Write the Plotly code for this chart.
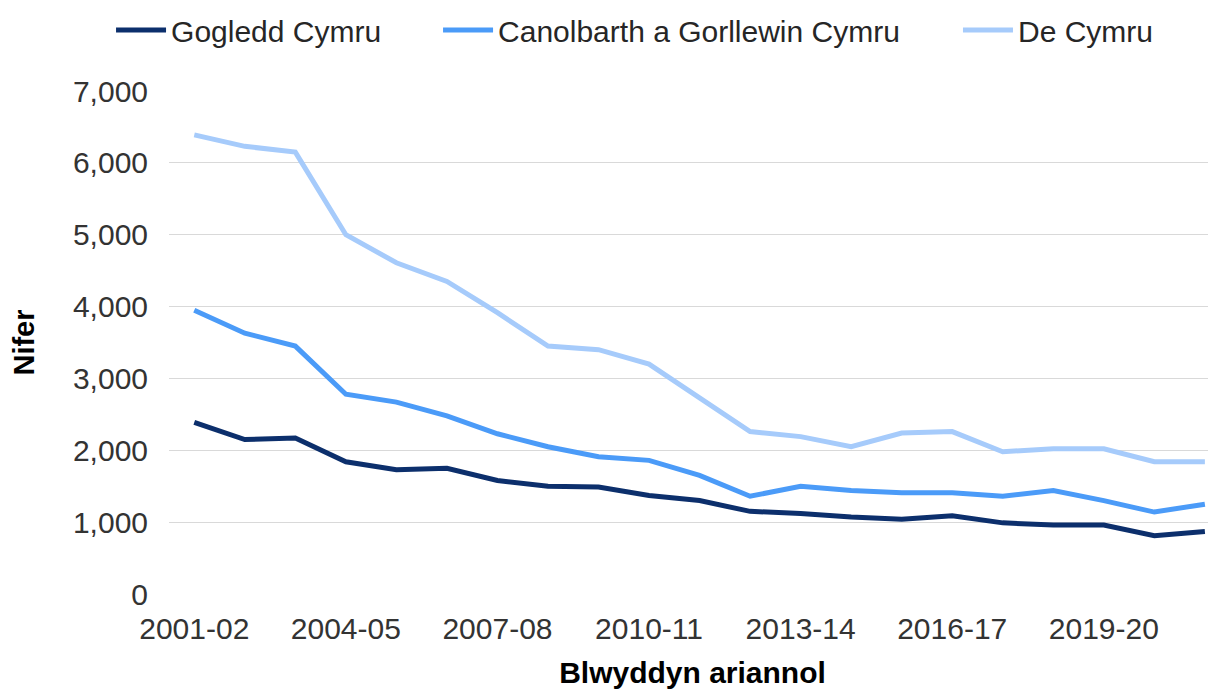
import plotly.graph_objects as go

years = ["2001-02", "2002-03", "2003-04", "2004-05", "2005-06", "2006-07", "2007-08",
         "2008-09", "2009-10", "2010-11", "2011-12", "2012-13", "2013-14", "2014-15",
         "2015-16", "2016-17", "2017-18", "2018-19", "2019-20", "2020-21", "2021-22"]

gogledd = [2390, 2150, 2170, 1840, 1730, 1750, 1580, 1500, 1490, 1370, 1300,
           1150, 1120, 1070, 1040, 1090, 990, 960, 960, 810, 870]
canolbarth = [3950, 3630, 3450, 2780, 2670, 2480, 2230, 2050, 1910, 1860, 1650,
              1360, 1500, 1440, 1410, 1410, 1360, 1440, 1300, 1140, 1250]
de = [6390, 6230, 6150, 5000, 4610, 4350, 3915, 3450, 3400, 3200, 2730,
      2260, 2190, 2050, 2240, 2260, 1980, 2020, 2020, 1840, 1840]

names = ["Gogledd Cymru", "Canolbarth a Gorllewin Cymru", "De Cymru"]
colors = ["#0c2f6c", "#4b9bf8", "#a6cbfb"]
tick_years = years[::3]

FONT = "Liberation Sans, Arial, sans-serif"

fig = go.Figure()
for i, (name, vals, col) in enumerate(zip(names, [gogledd, canolbarth, de], colors)):
    fig.add_trace(go.Scatter(
        x=years, y=vals, name=name, mode="lines",
        line=dict(color=col, width=5),
        legend="legend" if i == 0 else "legend%d" % (i + 1),
    ))

# one legend per series so each entry sits where the original has it
leg = dict(orientation="h", xref="container", yref="container",
           yanchor="middle", y=0.9677, xanchor="left",
           font=dict(family=FONT, size=30, color="#262626"),
           bgcolor="rgba(0,0,0,0)", itemwidth=50, visible=True)

# page body has an 8px margin, so the figure is drawn 8px smaller
fig.update_layout(
    width=1208, height=681,
    margin=dict(l=161, r=0, t=83, b=95, autoexpand=False),
    plot_bgcolor="white", paper_bgcolor="white",
    showlegend=True,
    legend=dict(leg, x=0.0853),
    legend2=dict(leg, x=0.356),
    legend3=dict(leg, x=0.7864),
)
fig.update_xaxes(
    type="category", range=[-0.5, 20.22],
    tickvals=tick_years, ticktext=tick_years,
    showgrid=False, showline=False, ticks="", ticklabelstandoff=14,
    tickfont=dict(family=FONT, size=30, color="#333333"),
    title=dict(text="<b>Blwyddyn ariannol</b>", font=dict(family=FONT, size=30, color="#000000"),
               standoff=31),
)
fig.update_yaxes(
    range=[0, 7000], dtick=1000, tickformat=",",
    showgrid=True, gridcolor="#d9d9d9", gridwidth=1,
    zeroline=False, showline=False, ticks="", ticklabelstandoff=20,
    tickfont=dict(family=FONT, size=30, color="#333333"),
    title=dict(text="<b>Nifer</b>", font=dict(family=FONT, size=29, color="#000000"),
               standoff=30),
)

fig.write_html("out.html")
